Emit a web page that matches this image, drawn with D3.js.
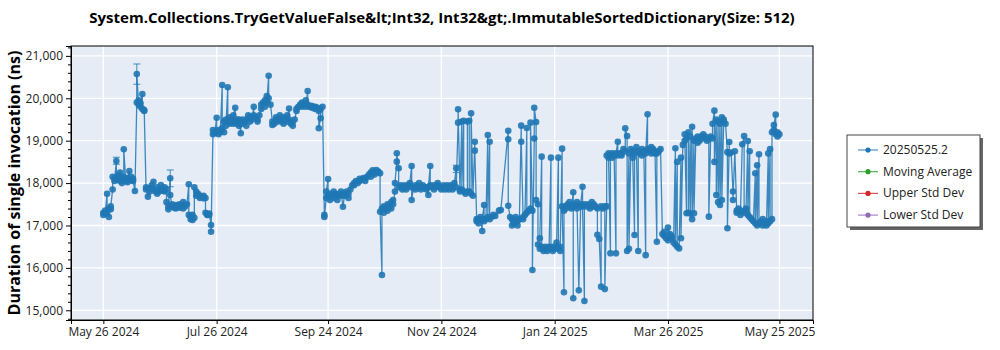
<!DOCTYPE html>
<html><head><meta charset="utf-8">
<script src="https://cdn.jsdelivr.net/npm/d3@7"></script>
<style>body{margin:0;background:#fff;} svg{display:block;font-family:"Open Sans","Noto Sans",sans-serif;}</style>
</head><body><svg id="chart" width="1000" height="350"></svg>
<script>
const titleText = "System.Collections.TryGetValueFalse&lt;Int32, Int32&gt;.ImmutableSortedDictionary(Size: 512)";
const yLabel = "Duration of single invocation (ns)";
const legendNames = ["20250525.2", "Moving Average", "Upper Std Dev", "Lower Std Dev"];
const legendColors = ["#1f77b4", "#2ca02c", "#d62728", "#9467bd"];
const xTickDates = ["2024-05-26", "2024-07-26", "2024-09-24", "2024-11-24", "2025-01-24", "2025-03-26", "2025-05-25"];
const yTicks = [15000, 16000, 17000, 18000, 19000, 20000, 21000];
const startDate = "2024-05-26";

// days since 2024-05-26 for each run
const runDay = [
  0,0,1,1,2,2,3,3,4,4,5,
  5,6,6,7,7,8,8,9,9,10,10,11,11,12,12,13,13,14,14,15,15,16,16,17,
  18,18,19,19,20,20,21,21,22,22,
  23,23,24,25,25,26,27,27,28,29,29,30,31,31,32,33,33,34,
  34,35,35,36,36,37,37,38,39,39,40,41,41,42,43,43,44,45,
  46,46,47,47,48,48,49,
  49,50,50,51,52,52,53,54,54,55,
  55,56,56,57,57,58,58,
  59,59,60,60,61,61,62,62,63,63,64,64,65,65,66,66,67,67,68,68,69,69,70,70,71,71,72,72,73,73,74,74,
  75,75,76,77,77,78,79,79,80,81,81,82,83,83,84,85,85,86,87,87,88,88,89,89,90,
  91,91,92,93,93,94,95,95,96,97,97,98,99,99,100,100,101,102,102,103,104,104,105,106,
  107,107,108,109,109,110,110,111,112,112,113,114,114,115,116,116,117,117,118,
  119,119,120,120,121,121,122,122,123,124,124,125,126,126,127,128,128,129,130,130,131,132,132,133,
  134,135,135,136,137,138,138,139,140,141,141,142,143,144,144,145,146,146,147,148,148,149,
  149,150,150,151,151,152,153,153,154,155,155,156,156,
  157,157,158,158,159,159,160,161,161,162,163,163,164,165,165,166,166,167,168,168,169,170,170,171,172,172,173,174,174,175,175,176,176,177,178,178,179,180,180,181,182,182,183,184,184,185,186,186,187,188,188,189,190,190,
  191,191,192,192,193,193,194,194,195,196,196,197,197,198,198,199,200,200,201,
  201,202,202,203,204,204,205,205,206,207,207,208,208,209,210,211,213,214,218,218,218,219,220,220,221,221,222,223,223,224,225,225,226,226,227,228,228,229,230,230,231,231,232,232,233,233,
  234,234,235,235,236,236,237,237,238,239,239,240,241,241,242,242,243,244,244,245,245,246,246,247,247,248,
  248,249,249,250,251,251,252,253,253,253,254,255,255,256,257,257,258,258,259,259,260,261,262,262,263,264,264,265,266,266,267,268,268,269,270,270,271,
  271,272,272,273,273,274,274,275,276,276,277,277,278,
  279,279,280,281,281,282,282,283,283,284,285,285,286,286,287,288,288,289,290,290,291,292,292,293,293,294,295,295,296,297,297,298,298,299,300,
  301,302,302,303,304,304,305,306,306,307,308,308,309,309,310,311,311,
  312,313,313,314,314,315,315,316,316,317,317,318,318,319,320,320,321,322,323,323,324,325,326,326,327,328,
  328,329,329,330,330,331,331,332,332,333,333,334,334,335,336,336,337,337,338,339,339,340,
  341,341,342,343,343,344,345,345,346,346,347,347,348,348,349,350,351,351,352,352,353,353,354,355,355,356,357,357,358,358,359,359,360,
  360,361,361,362,362,363,363,364
];
// mean duration (ns) for each run
const meanNs = [
  17300,17250,17350,17280,17750,17300,17200,17400,17380,17450,17850,
  18150,18100,18050,18521,18120,18080,18180,18250,18050,18100,18000,18150,18797,18100,18050,18020,18120,18285,18080,18060,18150,18100,18050,17814,
  19900,20573,19850,19950,19800,19880,20101,19750,19700,19724,
  17850,17900,17680,17800,17880,17950,18033,17850,17800,17900,17750,17800,17850,17955,17820,17800,17900,17850,
  17550,17450,17380,18113,17720,17450,17500,17420,17400,17480,17450,17420,17500,17480,17550,17400,17450,17500,
  17972,17250,17150,17220,17130,17250,17180,
  17900,17800,17700,17750,17650,17700,17680,17640,17700,17650,
  17300,17250,17260,17250,17280,17012,16854,
  19150,19250,19200,19180,19542,19200,19250,19150,19200,19230,20314,19300,19200,19450,19500,19350,20260,19450,19400,19550,19500,19450,19400,19600,19778,19450,19500,19400,19350,19500,19175,19450,
  19500,19400,19450,19350,19500,19600,19450,19550,19500,19802,19600,19550,19450,19500,19600,19750,19850,19900,19950,19800,20050,19900,20533,20000,19850,
  19450,19370,19400,19550,19500,19450,19600,19500,19450,19400,19550,19500,19600,19450,19760,19500,19400,19350,19450,19500,19700,19750,19800,19850,
  19800,19900,19850,19950,19800,20172,19850,19800,19780,19820,19800,19750,19800,19780,19700,19292,19530,19750,19800,
  17250,17200,17650,17800,18097,17700,17600,17750,17700,17650,17800,17750,17700,17600,17750,17700,17800,17443,17750,17700,17800,17650,17750,17850,
  17950,18000,17950,18050,18000,18100,18050,18080,18120,18100,18050,18150,18200,18250,18150,18300,18250,18200,18309,18270,18250,18230,
  17325,15833,17400,17300,17450,17400,17350,17500,17450,17400,17550,17600,17500,
  17800,18000,18505,18703,18350,17900,17950,17850,17900,17950,17900,17850,17950,17900,18000,18403,17600,17900,17950,17850,17900,18000,17900,17850,17900,17950,17880,17900,17850,17720,17900,18403,17950,17900,17950,17850,17900,17950,18000,17900,17850,17900,17950,17900,17850,17950,17900,17850,17950,17900,17850,18000,18350,17900,
  19425,19740,17850,17800,19450,17850,19470,17800,17750,17800,19450,19470,17800,17750,19646,17700,18976,18765,17150,
  17100,17150,17050,17200,16870,17150,17483,17100,17150,19134,17200,18976,17150,17200,17250,17224,17350,17365,19236,19033,17467,17200,17000,17150,17100,17050,17200,17100,17000,17150,19354,18976,17200,17150,17250,19300,17300,17350,17400,19425,17350,15950,19050,19778,19440,17600,
  17500,16550,16450,16700,18623,16500,16400,16450,16500,16400,16450,16500,18600,16450,16400,16500,16450,16600,16500,18600,16450,16400,16500,18812,17450,15424,
  17350,17450,17400,17500,17450,17550,17400,17783,15283,17450,17500,17400,17550,15470,17450,17500,17915,17450,15220,17500,17450,17500,17450,17400,17550,17500,17450,17450,17400,16780,16680,15557,17450,17400,17450,15500,17450,
  18650,18700,18600,16345,18650,18700,18600,18650,16345,18700,18976,18650,18700,
  18700,18650,18800,18750,19292,19110,16400,18700,16450,18800,18750,18600,16776,18700,18850,16400,18750,18700,18800,18650,18750,16300,18700,19623,18800,18750,18700,18850,18800,18700,18750,16618,18700,18750,18800,
  16800,16750,16850,16700,16650,16950,16800,16700,16750,16600,18820,16550,18500,16500,16460,18600,16700,
  18900,19000,19150,17288,19050,19200,17300,19100,17280,19330,17150,19000,17288,19050,19100,18950,19000,19100,19050,19150,19100,19000,19050,17208,19100,19050,
  19400,19708,18500,19500,17720,19450,17550,19400,17483,19550,17600,19450,19500,19400,18730,16934,18970,18700,18720,17800,17600,18750,
  17350,17300,17400,17350,17250,18915,19110,17300,17400,17350,18990,17250,18750,17200,17150,17100,18231,17050,18420,17000,18679,17050,17100,17000,17150,17050,17100,17000,18700,17050,18800,17100,17150,
  19200,19250,19370,19614,19150,19100,19200,19150
];
// visible error bars
const errDay = [7, 18, 36, 190];
const errLow = [18443, 20330, 17915, 18250];
const errHigh = [18608, 20809, 18309, 18420];

const svg = d3.select("#chart");
const W = 1000, H = 350;
const m = {left: 71, right: 813, top: 46, bottom: 320};
const start = d3.utcParse("%Y-%m-%d")(startDate);
const dayToDate = d => d3.utcHour.offset(start, Math.round(d * 24));
const data = runDay.map((d, i) => ({date: dayToDate(d), v: meanNs[i]}));

const x = d3.scaleUtc()
  .domain([dayToDate(-17.4), dayToDate(364 + 18.1)])
  .range([m.left, m.right]);
const y = d3.scaleLinear().domain([14771, 21233]).range([m.bottom, m.top]);

svg.append("rect").attr("width", W).attr("height", H).attr("fill", "#fff");
svg.append("rect").attr("x", m.left).attr("y", m.top)
  .attr("width", m.right - m.left).attr("height", m.bottom - m.top).attr("fill", "#E5ECF6");

const xTicks = xTickDates.map(s => d3.utcParse("%Y-%m-%d")(s));
const g = svg.append("g");
g.selectAll("line.vg").data(xTicks).join("line")
  .attr("x1", d => x(d)).attr("x2", d => x(d)).attr("y1", m.top).attr("y2", m.bottom)
  .attr("stroke", "#fff").attr("stroke-width", 1.3);
g.selectAll("line.hg").data(yTicks).join("line")
  .attr("x1", m.left).attr("x2", m.right).attr("y1", d => y(d)).attr("y2", d => y(d))
  .attr("stroke", "#fff").attr("stroke-width", 1.3);

const color = "#1f77b4";
const plot = svg.append("g");
plot.append("path").datum(data)
  .attr("d", d3.line().x(d => x(d.date)).y(d => y(d.v)))
  .attr("fill", "none").attr("stroke", color).attr("stroke-width", 1.3).attr("stroke-opacity", 0.85);

errDay.forEach((d, i) => {
  const xx = x(dayToDate(d));
  plot.append("line").attr("x1", xx).attr("x2", xx).attr("y1", y(errLow[i])).attr("y2", y(errHigh[i]))
    .attr("stroke", color).attr("stroke-width", 1.2).attr("stroke-opacity", 0.7);
  [errLow[i], errHigh[i]].forEach(val => {
    plot.append("line").attr("x1", xx - 3.5).attr("x2", xx + 3.5).attr("y1", y(val)).attr("y2", y(val))
      .attr("stroke", color).attr("stroke-width", 1.2).attr("stroke-opacity", 0.7);
  });
});

plot.selectAll("circle").data(data).join("circle")
  .attr("cx", d => x(d.date)).attr("cy", d => y(d.v)).attr("r", 3.3)
  .attr("fill", color).attr("fill-opacity", 0.9);

// frame
svg.append("rect").attr("x", m.left).attr("y", m.top)
  .attr("width", m.right - m.left).attr("height", m.bottom - m.top)
  .attr("fill", "none").attr("stroke", "#000").attr("stroke-width", 1);

// axes
const yAxis = svg.append("g").attr("transform", `translate(${m.left},0)`)
  .call(d3.axisLeft(y).tickValues(yTicks).tickFormat(d3.format(",")).tickSize(5).tickPadding(3));
const minorTicks = d3.range(14800, 21201, 200).filter(v => v % 1000 !== 0);
svg.append("g").attr("transform", `translate(${m.left},0)`)
  .call(d3.axisLeft(y).tickValues(minorTicks).tickFormat("").tickSize(3))
  .call(s => s.select(".domain").remove());
const xAxis = svg.append("g").attr("transform", `translate(0,${m.bottom})`)
  .call(d3.axisBottom(x).tickValues(xTicks).tickFormat(d3.utcFormat("%b %d %Y")).tickSize(4).tickPadding(3));
svg.selectAll(".tick text").attr("font-size", 12).attr("fill", "#222").attr("font-family", "'Open Sans', sans-serif");
svg.selectAll(".domain").attr("stroke", "#000");

// title
svg.append("text").attr("x", 442).attr("y", 23).attr("text-anchor", "middle")
  .attr("font-size", 15).attr("font-weight", "bold").attr("fill", "#000").text(titleText);
svg.append("text").attr("transform", `translate(20,183) rotate(-90)`).attr("text-anchor", "middle")
  .attr("font-size", 16).attr("font-weight", "bold").attr("fill", "#000").text(yLabel);

// legend
const lg = svg.append("g").attr("transform", "translate(847,135)");
lg.append("rect").attr("x", 3).attr("y", 3).attr("width", 133).attr("height", 92).attr("fill", "#666");
lg.append("rect").attr("width", 133).attr("height", 92).attr("fill", "#fff").attr("stroke", "#444").attr("stroke-width", 1);
legendNames.forEach((n, i) => {
  const yy = 15 + i * 21.7;
  lg.append("line").attr("x1", 11).attr("x2", 31).attr("y1", yy).attr("y2", yy)
    .attr("stroke", legendColors[i]).attr("stroke-width", 1.2).attr("stroke-opacity", 0.8);
  lg.append("circle").attr("cx", 21).attr("cy", yy).attr("r", 2.6).attr("fill", legendColors[i]);
  lg.append("text").attr("x", 36).attr("y", yy + 4).attr("font-size", 12).attr("fill", "#222").text(n);
});
</script></body></html>
